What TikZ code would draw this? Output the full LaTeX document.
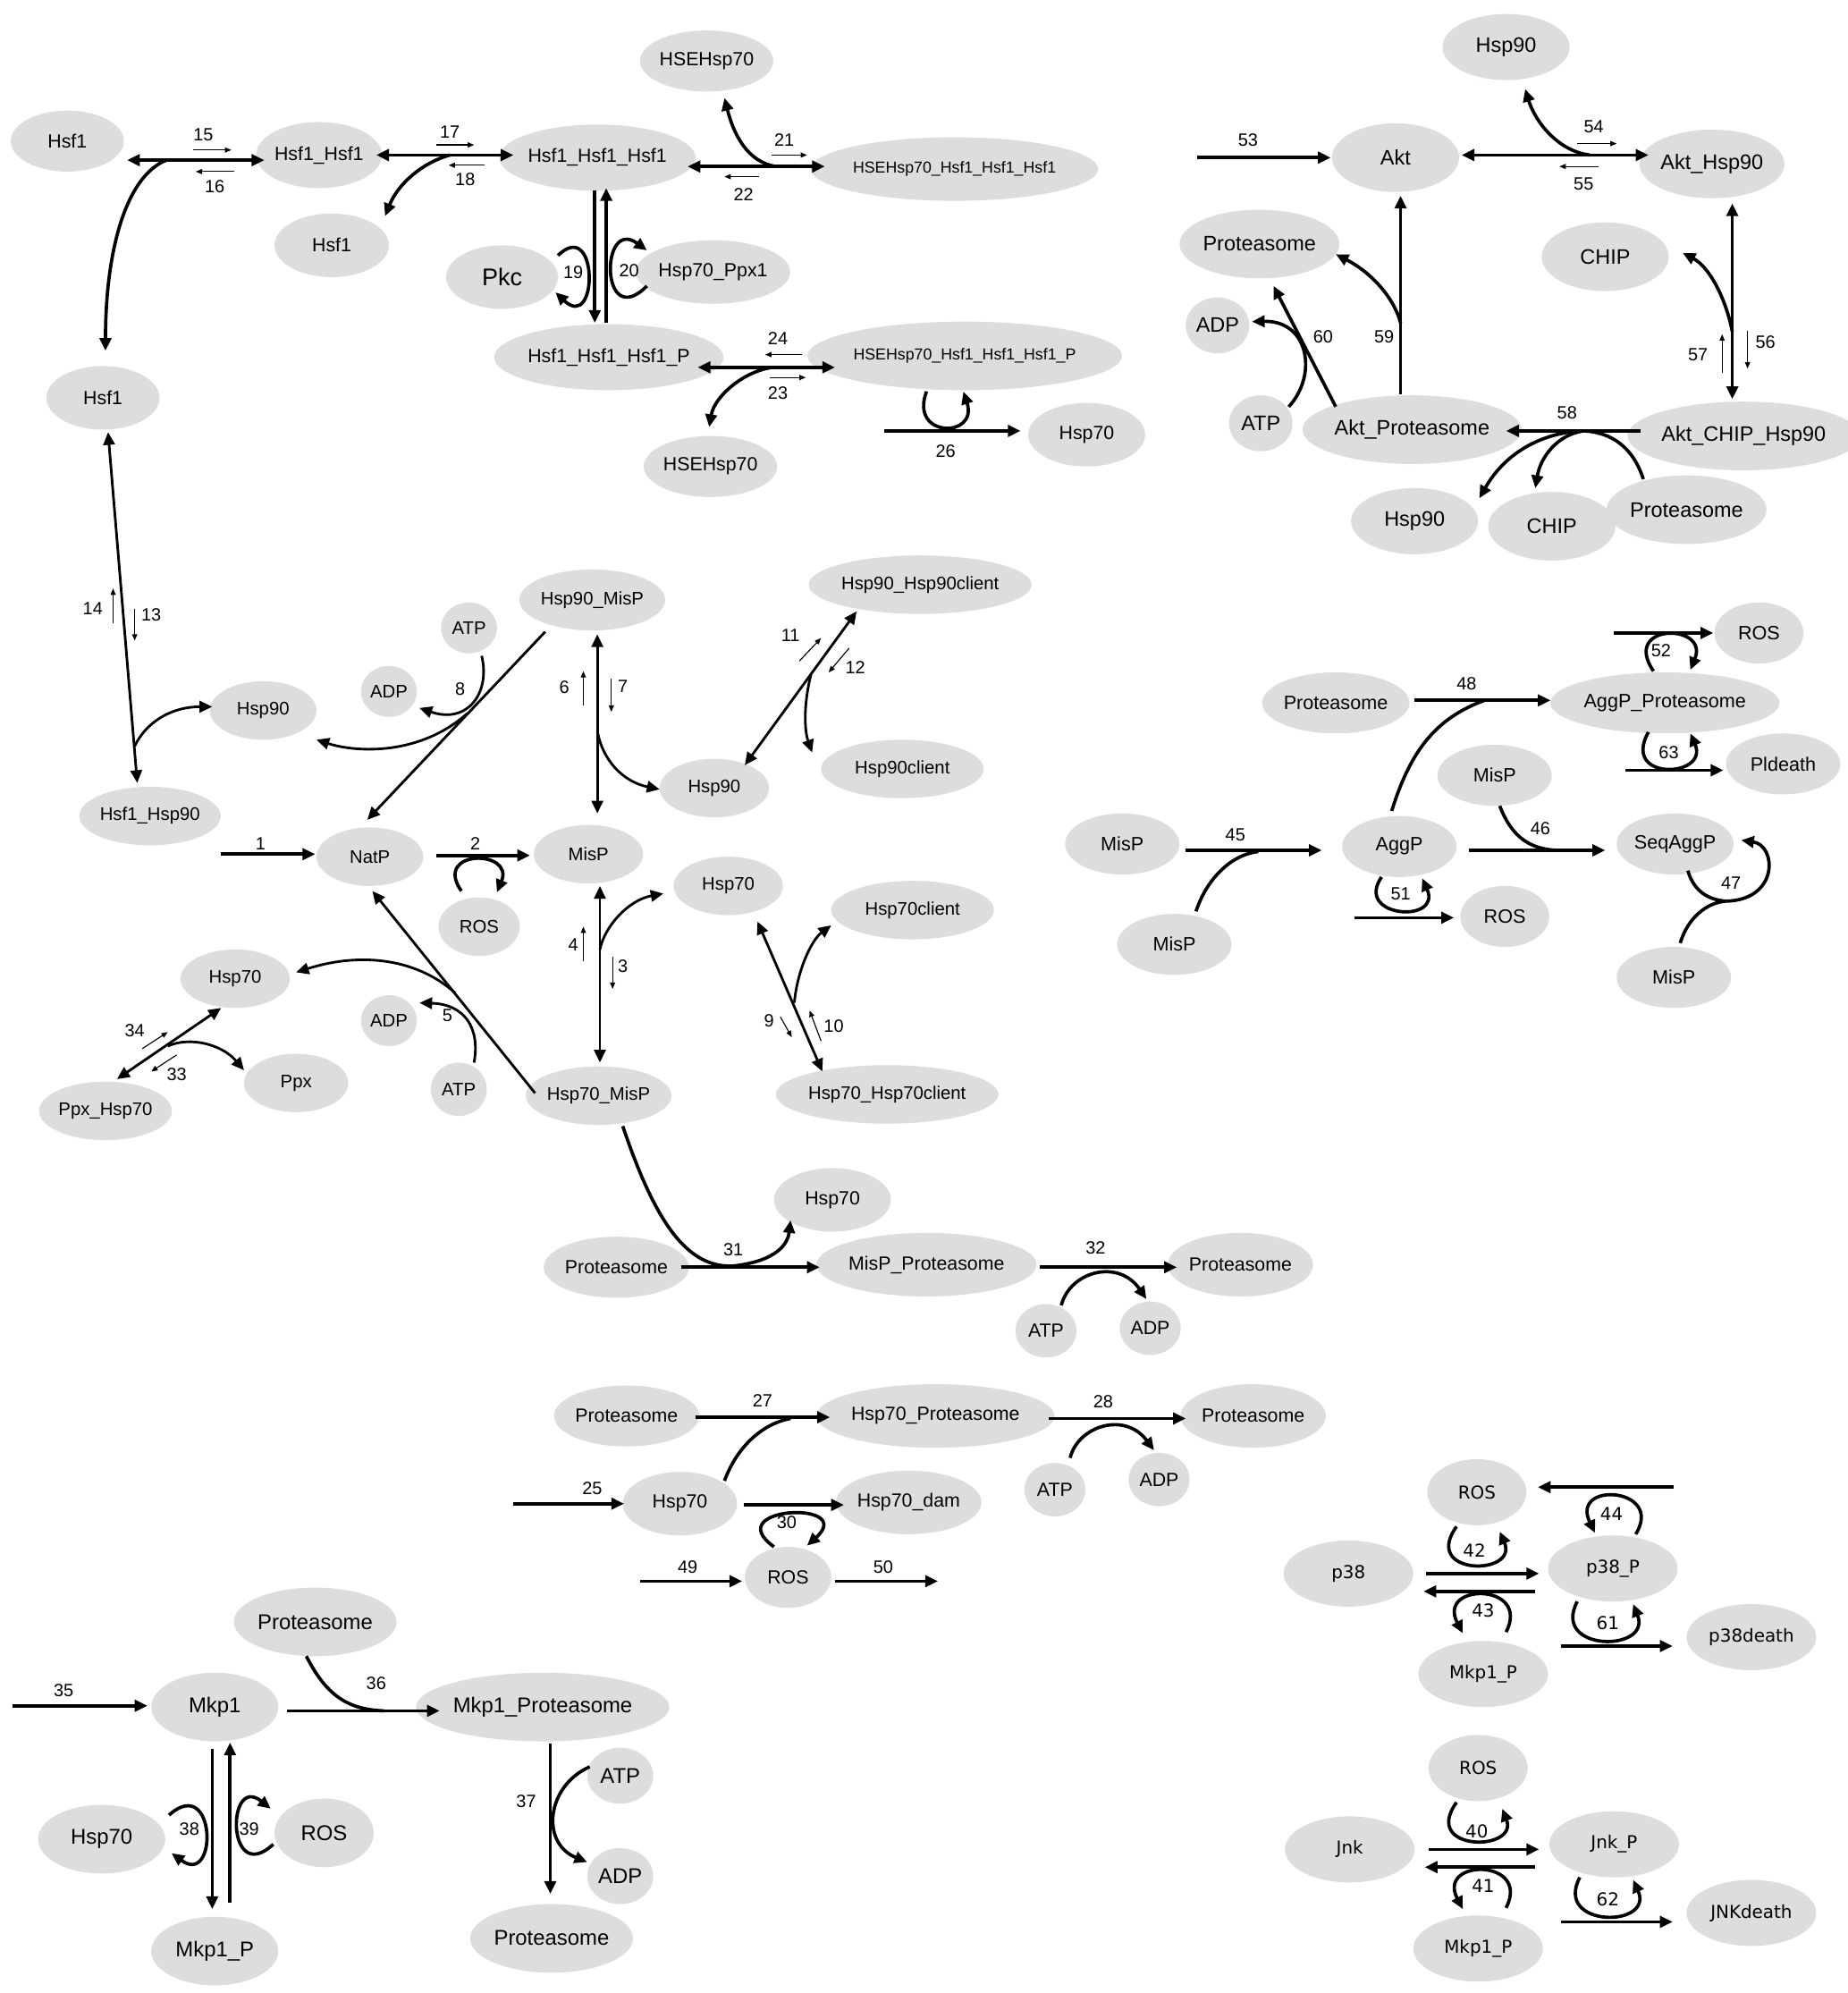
\documentclass[tikz,border=0pt]{standalone}
\usepackage{fontspec}
\setmainfont{Liberation Sans}
\newfontfamily\dejavu{DejaVu Sans}
\usetikzlibrary{shapes.geometric,arrows.meta,calc}
\definecolor{spgray}{RGB}{220,221,223}
\tikzset{
  sp/.style 2 args={ellipse,fill=spgray,inner sep=0pt,minimum width=#1,minimum height=#2},
  rx/.style={line width=2.6pt,-{Triangle[length=10pt,width=9pt]}},
  rxx/.style={line width=2.6pt,{Triangle[length=10pt,width=9pt]}-{Triangle[length=10pt,width=9pt]}},
  ln/.style={line width=2.6pt},
  thn/.style={line width=2pt},
  dirarr/.style={line width=0.8pt,-{Triangle[length=5pt,width=4pt]}},
  num/.style={inner sep=0pt,font=\fontsize{14}{16}\selectfont},
  numdv/.style={inner sep=0pt,font=\dejavu\fontsize{14}{16}\selectfont}
}

\begin{document}
\begin{tikzpicture}[x=1pt,y=-1pt,every node/.style={font=\fontsize{15}{17}\selectfont}]
  \fill[white] (0,0) rectangle (1454,1568);
  \useasboundingbox (0,0) rectangle (1454,1568);

  % Hsf1 trimerisation
  \node[sp={89}{48}] (hsfA) at (53,111) {Hsf1};
  \node[sp={88}{52}] (hsfdim) at (251,122) {Hsf1\_Hsf1};
  \node[sp={90}{50}] (hsfB) at (261,193) {Hsf1};
  \node[sp={89}{50}] (hsfC) at (81,313) {Hsf1};
  \node[sp={134}{52}] (hsftri) at (470,124) {Hsf1\_Hsf1\_Hsf1};
  \node[sp={88}{50},font=\fontsize{19}{21}\selectfont] (pkc) at (395,218) {Pkc};
  \node[sp={98}{50}] (hspppx) at (561,214) {Hsp70\_Ppx1};
  \node[sp={136}{52}] (hsftrip) at (479,281) {Hsf1\_Hsf1\_Hsf1\_P};
  \node[sp={92}{48}] (hseA) at (556,48) {HSEHsp70};
  \node[sp={184}{50},font=\fontsize{12.5}{14}\selectfont] (hsecx) at (751,133) {HSEHsp70\_Hsf1\_Hsf1\_Hsf1};
  \node[sp={188}{54},font=\fontsize{12.5}{14}\selectfont] (hsecxp) at (759,280) {HSEHsp70\_Hsf1\_Hsf1\_Hsf1\_P};
  \node[sp={92}{48}] (hseB) at (559,367) {HSEHsp70};
  \node[sp={92}{50}] (hspA) at (855,342) {Hsp70};

  % Akt
  \begin{scope}[every node/.style={font=\fontsize{16.5}{18}\selectfont}]
    \node[sp={100}{52}] (hspT) at (1185,37) {Hsp90};
    \node[sp={100}{54}] (akt) at (1098,124) {Akt};
    \node[sp={100}{54}] (akthsp) at (1347,129) {Akt\_Hsp90};
    \node[sp={100}{54}] (protA) at (991,192) {Proteasome};
    \node[sp={100}{54}] (chipA) at (1263,202) {CHIP};
    \node[sp={50}{44}] (adpA) at (958,256) {ADP};
    \node[sp={50}{44}] (atpA) at (992,333) {ATP};
    \node[sp={144}{54}] (aktprot) at (1111,338) {Akt\_Proteasome};
    \node[sp={146}{54}] (aktchip) at (1372,343) {Akt\_CHIP\_Hsp90};
    \node[sp={100}{52}] (hspE) at (1113,410) {Hsp90};
    \node[sp={100}{54}] (chipB) at (1221,414) {CHIP};
    \node[sp={100}{54}] (protB) at (1327,401) {Proteasome};
  \end{scope}

  % folding and chaperones
  \begin{scope}[every node/.style={font=\fontsize{14.3}{16}\selectfont}]
    \node[sp={88}{48}] (hsp90misp) at (466,472) {Hsp90\_MisP};
    \node[sp={44}{40}] (atpB) at (369,494) {ATP};
    \node[sp={44}{40}] (adpB) at (306,544) {ADP};
    \node[sp={84}{46}] (hspC) at (207,559) {Hsp90};
    \node[sp={84}{46}] (hsf1hsp90) at (118,642) {Hsf1\_Hsp90};
    \node[sp={84}{46}] (natp) at (291,674) {NatP};
    \node[sp={86}{46}] (misp) at (463,672) {MisP};
    \node[sp={64}{46}] (rosA) at (377,729) {ROS};
    \node[sp={86}{46}] (hspD) at (562,620) {Hsp90};
    \node[sp={158}{46}] (hsp90cl) at (724,460) {Hsp90\_Hsp90client};
    \node[sp={128}{46}] (hsp90clB) at (710,605) {Hsp90client};
    \node[sp={86}{46}] (hspB70) at (573,697) {Hsp70};
    \node[sp={128}{46}] (hsp70cl) at (718,716) {Hsp70client};
    \node[sp={86}{46}] (hspC70) at (185,770) {Hsp70};
    \node[sp={44}{40}] (adpC) at (306,803) {ADP};
    \node[sp={82}{46}] (ppx) at (233,852) {Ppx};
    \node[sp={44}{42}] (atpC) at (361,857) {ATP};
    \node[sp={80}{46}] (ppxhsp) at (83,874) {Ppx\_Hsp70};
    \node[sp={86}{46}] (hsp70misp) at (471,862) {Hsp70\_MisP};
    \node[sp={158}{46}] (hsp70clB) at (698,861) {Hsp70\_Hsp70client};
  \end{scope}

  % degradation
  \node[sp={92}{50}] (hspD70) at (655,944) {Hsp70};
  \node[sp={92}{48}] (protC) at (485,997) {Proteasome};
  \node[sp={162}{50}] (mispprot) at (729,995) {MisP\_Proteasome};
  \node[sp={92}{50}] (protD) at (976,995) {Proteasome};
  \node[sp={48}{42}] (atpD) at (823,1047) {ATP};
  \node[sp={48}{42}] (adpD) at (905,1045) {ADP};
  \node[sp={94}{48}] (protE) at (493,1114) {Proteasome};
  \node[sp={162}{50}] (hsp70prot) at (736,1114) {Hsp70\_Proteasome};
  \node[sp={94}{50}] (protF) at (986,1114) {Proteasome};
  \node[sp={48}{42}] (atpE) at (830,1172) {ATP};
  \node[sp={48}{42}] (adpE) at (912,1164) {ADP};
  \node[sp={90}{50}] (hspE70) at (535,1183) {Hsp70};
  \node[sp={92}{50}] (hsp70dam) at (715,1182) {Hsp70\_dam};
  \node[sp={68}{48}] (rosB) at (620,1241) {ROS};

  % Mkp1
  \begin{scope}[every node/.style={font=\fontsize{16.8}{18}\selectfont}]
    \node[sp={100}{54}] (protG) at (248,1276) {Proteasome};
    \node[sp={100}{54}] (mkp1) at (169,1343) {Mkp1};
    \node[sp={150}{54}] (mkp1prot) at (427,1343) {Mkp1\_Proteasome};
    \node[sp={100}{54}] (hspF70) at (80,1447) {Hsp70};
    \node[sp={78}{54}] (rosC) at (255,1442) {ROS};
    \node[sp={100}{54}] (mkp1p) at (169,1535) {Mkp1\_P};
    \node[sp={52}{44}] (atpF) at (488,1397) {ATP};
    \node[sp={52}{44}] (adpF) at (488,1476) {ADP};
    \node[sp={100}{54}] (protH) at (434,1525) {Proteasome};
  \end{scope}

  % aggregation
  \begin{scope}[every node/.style={font=\fontsize{15.2}{17}\selectfont}]
    \node[sp={70}{48}] (rosD) at (1384,498) {ROS};
    \node[sp={84}{48}] (protI) at (1051,553) {Proteasome};
    \node[sp={152}{48}] (aggprot) at (1310,553) {AggP\_Proteasome};
    \node[sp={90}{48}] (mispB) at (1176,610) {MisP};
    \node[sp={90}{48}] (pldeath) at (1403,601) {Pldeath};
    \node[sp={90}{48}] (mispC) at (883,664) {MisP};
    \node[sp={90}{48}] (aggp) at (1101,666) {AggP};
    \node[sp={92}{48}] (seqaggp) at (1318,664) {SeqAggP};
    \node[sp={70}{48}] (rosE) at (1184,721) {ROS};
    \node[sp={90}{48}] (mispD) at (924,743) {MisP};
    \node[sp={90}{48}] (mispE) at (1317,769) {MisP};
  \end{scope}

  % p38 and Jnk
  \begin{scope}[every node/.style={font=\dejavu\fontsize{14}{16}\selectfont}]
    \node[sp={78}{52}] (rosF) at (1162,1174) {ROS};
    \node[sp={102}{52}] (p38) at (1061,1238) {p38};
    \node[sp={102}{52}] (p38p) at (1269,1234) {p38\_P};
    \node[sp={102}{52}] (p38death) at (1378,1288) {p38death};
    \node[sp={102}{52}] (mkp1pB) at (1167,1317) {Mkp1\_P};
    \node[sp={78}{52}] (rosG) at (1163,1391) {ROS};
    \node[sp={102}{52}] (jnk) at (1062,1455) {Jnk};
    \node[sp={102}{52}] (jnkp) at (1270,1451) {Jnk\_P};
    \node[sp={102}{52}] (jnkdeath) at (1378,1505) {JNKdeath};
    \node[sp={102}{52}] (mkp1pC) at (1163,1533) {Mkp1\_P};
  \end{scope}

  \coordinate (j15) at (131,126);
  \coordinate (j17) at (354,122);
  \coordinate (j21) at (611,131);
  \coordinate (j23) at (608,289);
  \coordinate (s26) at (696,339);
  \coordinate (j13) at (106,587);
  \coordinate (s53) at (942,124);
  \coordinate (j54) at (1251,122);
  \coordinate (j56) at (1363,261);
  \coordinate (j58) at (1246,339);
  \coordinate (j59) at (1102,254);
  \coordinate (s1) at (174,672);
  \coordinate (j6) at (470,575);
  \coordinate (j8) at (368,561);
  \coordinate (j11) at (638,531);
  \coordinate (j3) at (472,747);
  \coordinate (j9) at (625,789);
  \coordinate (j5) at (358,781);
  \coordinate (j33) at (132,823);
  \coordinate (j31) at (577,996);
  \coordinate (j27) at (622,1116);
  \coordinate (s25) at (404,1183);
  \coordinate (s49) at (504,1244);
  \coordinate (e50) at (738,1244);
  \coordinate (s35) at (10,1342);
  \coordinate (j36) at (302,1346);
  \coordinate (j45) at (990,670);
  \coordinate (j48) at (1168,551);
  \coordinate (j46) at (1225,669);
  \coordinate (j47) at (1358,709);
  \coordinate (s51) at (1066,722);
  \coordinate (s52) at (1270,498);
  \coordinate (s63) at (1279,606);
  \coordinate (s44) at (1317,1170);
  \coordinate (s61) at (1228,1295);
  \coordinate (s62) at (1228,1512);

  \draw[rxx] ($(hsfA)+(47,15)$) -- ($(hsfdim)+(-43,4)$);
  \draw[rx] (j15) .. controls (100,138) and (83,195) .. ($(hsfC)+(2,-37)$);
  \draw[rxx] ($(hsfdim)+(45,0)$) -- ($(hsftri)+(-66,-2)$);
  \draw[rx] (j17) .. controls (332,128) and (313,145) .. ($(hsfB)+(42,-23)$);
  \draw[rx] ($(hsftri)+(-2,26)$) -- ($(hsftrip)+(-11,-27)$);
  \draw[rx] ($(hsftrip)+(-2,-27)$) -- ($(hsftri)+(7,24)$);
  \draw[rx] ($(pkc)+(44,-17)$) .. controls (471,170) and (471,262) .. ($(pkc)+(42,12)$);
  \draw[rx] ($(hspppx)+(-52,11)$) .. controls (472,262) and (472,170) .. ($(hspppx)+(-52,-17)$);
  \draw[rxx] ($(hsftri)+(71,7)$) -- ($(hsecx)+(-102,-2)$);
  \draw[rx] (j21) .. controls (588,128) and (577,105) .. ($(hseA)+(14,29)$);
  \draw[rxx] ($(hsftrip)+(70,8)$) -- ($(hsecxp)+(-102,9)$);
  \draw[rx] (j23) .. controls (585,292) and (562,312) .. ($(hseB)+(-1,-31)$);
  \draw[rx] (s26) -- ($(hspA)+(-52,-3)$);
  \draw[rx] ($(hsecxp)+(-30,28)$) .. controls (715,345) and (770,345) .. ($(hsecxp)+(-1,28)$);
  \draw[rxx,thn] ($(hsfC)+(4,27)$) -- ($(hsf1hsp90)+(-10,-26)$);
  \draw[rx,thn] (j13) .. controls (115,568) and (135,556) .. ($(hspC)+(-40,-3)$);

  \draw[rx] (s53) -- ($(akt)+(-51,0)$);
  \draw[rxx] ($(akt)+(52,-2)$) -- ($(akthsp)+(-50,-7)$);
  \draw[rx] (j54) .. controls (1226,119) and (1208,96) .. ($(hspT)+(15,33)$);
  \draw[rxx] ($(akthsp)+(16,31)$) -- ($(aktchip)+(-9,-29)$);
  \draw[rx] (j56) .. controls (1358,235) and (1345,210) .. ($(chipA)+(61,-3)$);
  \draw[rx] ($(aktchip)+(-81,-4)$) -- ($(aktprot)+(74,1)$);
  \draw[ln] ($(protB)+(-34,-24)$) .. controls (1285,352) and (1268,340) .. (j58);
  \draw[rx] (j58) .. controls (1215,340) and (1185,355) .. ($(hspE)+(51,-18)$);
  \draw[rx] (j58) .. controls (1225,342) and (1212,360) .. ($(chipB)+(-13,-30)$);
  \draw[rx] ($(aktprot)+(-9,-28)$) -- ($(akt)+(4,30)$);
  \draw[rx] (j59) .. controls (1097,235) and (1080,215) .. ($(protA)+(60,8)$);
  \draw[rx] ($(aktprot)+(-60,-18)$) -- ($(protA)+(11,33)$);
  \draw[rx] ($(atpA)+(22,-13)$) .. controls (1037,295) and (1030,252) .. ($(adpA)+(27,-3)$);

  \draw[rx] (s1) -- ($(natp)+(-43,-2)$);
  \draw[rx] ($(natp)+(52,-1)$) -- ($(misp)+(-46,1)$);
  \draw[rx] ($(rosA)+(-14,-28)$) .. controls (340,668) and (405,668) .. ($(rosA)+(14,-27)$);
  \draw[rxx,thn] ($(hsp90misp)+(4,27)$) -- ($(misp)+(7,-32)$);
  \draw[rx,thn] (j6) .. controls (474,598) and (490,615) .. ($(hspD)+(-43,1)$);
  \draw[rx,thn] ($(hsp90misp)+(-37,25)$) -- ($(natp)+(-2,-29)$);
  \draw[rx,thn] ($(atpB)+(10,22)$) .. controls (386,545) and (368,570) .. ($(adpB)+(24,13)$);
  \draw[rx,thn] (j8) .. controls (330,595) and (280,592) .. ($(hspC)+(42,23)$);
  \draw[rxx,thn] ($(hspD)+(24,-18)$) -- ($(hsp90cl)+(-50,21)$);
  \draw[rx,thn] (j11) .. controls (632,555) and (633,575) .. ($(hsp90clB)+(-71,-13)$);
  \draw[rxx,thn] ($(misp)+(9,25)$) -- ($(hsp70misp)+(1,-26)$);
  \draw[rx,thn] (j3) .. controls (476,728) and (495,708) .. ($(hspB70)+(-51,6)$);
  \draw[rxx,thn] ($(hspB70)+(23,28)$) -- ($(hsp70clB)+(-51,-18)$);
  \draw[rx,thn] (j9) .. controls (627,765) and (638,740) .. ($(hsp70cl)+(-64,12)$);
  \draw[rx,thn] ($(hsp70misp)+(-50,-2)$) -- ($(natp)+(2,27)$);
  \draw[rx,thn] ($(atpC)+(12,-21)$) .. controls (378,808) and (365,790) .. ($(adpC)+(24,-14)$);
  \draw[rx,thn] (j5) .. controls (325,752) and (280,750) .. ($(hspC70)+(48,-5)$);
  \draw[rxx,thn] ($(ppxhsp)+(9,-25)$) -- ($(hspC70)+(-11,23)$);
  \draw[rx,thn] (j33) .. controls (150,815) and (175,822) .. ($(ppx)+(-41,-10)$);

  \draw[rx] ($(protC)+(51,0)$) -- ($(mispprot)+(-84,2)$);
  \draw[rx] ($(hsp70misp)+(19,24)$) .. controls (515,960) and (540,998) .. (j31) .. controls (612,992) and (620,978) .. ($(hspD70)+(-33,16)$);
  \draw[rx] ($(mispprot)+(89,2)$) -- ($(protD)+(-50,2)$);
  \draw[rx] ($(atpD)+(12,-20)$) .. controls (842,1000) and (880,990) .. ($(adpD)+(-3,-23)$);
  \draw[rx] ($(protE)+(54,1)$) -- ($(hsp70prot)+(-83,1)$);
  \draw[ln] ($(hspE70)+(35,-18)$) .. controls (580,1138) and (600,1120) .. (j27);
  \draw[rx] ($(hsp70prot)+(89,2)$) -- ($(protF)+(-53,2)$);
  \draw[rx] ($(atpE)+(12,-25)$) .. controls (848,1122) and (885,1110) .. ($(adpE)+(-4,-23)$);
  \draw[rx] (s25) -- ($(hspE70)+(-44,0)$);
  \draw[rx] ($(hspE70)+(50,1)$) -- ($(hsp70dam)+(-51,2)$);
  \draw[rx] ($(rosB)+(-11,-24)$) .. controls (565,1185) and (675,1180) .. ($(rosB)+(15,-25)$);
  \draw[rx] (s49) -- ($(rosB)+(-36,3)$);
  \draw[rx] ($(rosB)+(37,3)$) -- (e50);

  \draw[rx] (s35) -- ($(mkp1)+(-53,-1)$);
  \draw[rx] ($(mkp1)+(57,3)$) -- ($(mkp1prot)+(-81,3)$);
  \draw[ln] ($(protG)+(-7,27)$) .. controls (255,1330) and (270,1345) .. (j36);
  \draw[rx] ($(mkp1)+(-2,33)$) -- ($(mkp1p)+(-2,-33)$);
  \draw[rx] ($(mkp1p)+(12,-38)$) -- ($(mkp1)+(12,28)$);
  \draw[rx] ($(hspF70)+(53,-19)$) .. controls (170,1395) and (172,1485) .. ($(hspF70)+(55,11)$);
  \draw[rx] ($(rosC)+(-40,9)$) .. controls (178,1485) and (178,1395) .. ($(rosC)+(-42,-19)$);
  \draw[rx] ($(mkp1prot)+(6,29)$) -- ($(protH)+(-1,-35)$);
  \draw[rx] ($(atpF)+(-24,-7)$) .. controls (430,1405) and (425,1450) .. ($(adpF)+(-26,-11)$);

  \draw[rx] ($(mispC)+(50,5)$) -- ($(aggp)+(-61,3)$);
  \draw[ln] ($(mispD)+(17,-26)$) .. controls (950,690) and (970,672) .. (j45);
  \draw[rx] ($(protI)+(62,-2)$) -- ($(aggprot)+(-90,-2)$);
  \draw[ln] ($(aggp)+(-6,-28)$) .. controls (1110,590) and (1130,565) .. (j48);
  \draw[rx] ($(aggp)+(55,3)$) -- ($(seqaggp)+(-55,5)$);
  \draw[ln] ($(mispB)+(4,24)$) .. controls (1190,660) and (1205,668) .. (j46);
  \draw[ln] ($(seqaggp)+(10,21)$) .. controls (1333,702) and (1345,708) .. (j47);
  \draw[ln] ($(mispE)+(5,-27)$) .. controls (1328,722) and (1343,710) .. (j47);
  \draw[rx] (j47) .. controls (1400,708) and (1398,665) .. ($(seqaggp)+(52,-3)$);
  \draw[rx] (s51) -- ($(rosE)+(-40,1)$);
  \draw[rx] ($(aggp)+(-14,24)$) .. controls (1065,722) and (1135,727) .. ($(aggp)+(18,25)$);
  \draw[rx] (s52) -- ($(rosD)+(-36,0)$);
  \draw[rx] ($(aggprot)+(-9,-25)$) .. controls (1275,490) and (1345,490) .. ($(aggprot)+(20,-26)$);
  \draw[rx] (s63) -- ($(pldeath)+(-47,5)$);
  \draw[rx] ($(aggprot)+(-13,23)$) .. controls (1275,615) and (1345,612) .. ($(aggprot)+(20,24)$);

  \draw[rx] (s44) -- ($(rosF)+(48,-4)$);
  \draw[rx] ($(p38p)+(18,-27)$) .. controls (1310,1170) and (1235,1165) .. ($(p38p)+(-14,-28)$);
  \draw[rx] ($(p38)+(61,0)$) -- ($(p38p)+(-58,4)$);
  \draw[rx] ($(rosF)+(-16,27)$) .. controls (1118,1240) and (1195,1240) .. ($(rosF)+(18,31)$);
  \draw[rx] ($(p38p)+(-61,18)$) -- ($(p38)+(59,14)$);
  \draw[rx] ($(mkp1pB)+(18,-33)$) .. controls (1205,1245) and (1130,1245) .. ($(mkp1pB)+(-16,-32)$);
  \draw[rx] (s61) -- ($(p38death)+(-62,7)$);
  \draw[rx] ($(p38p)+(-28,26)$) .. controls (1220,1300) and (1300,1300) .. ($(p38p)+(16,28)$);
  \draw[rx] ($(jnk)+(62,0)$) -- ($(jnkp)+(-59,4)$);
  \draw[rx] ($(rosG)+(-17,27)$) .. controls (1118,1457) and (1195,1457) .. ($(rosG)+(19,32)$);
  \draw[rx] ($(jnkp)+(-62,18)$) -- ($(jnk)+(59,14)$);
  \draw[rx] ($(mkp1pC)+(22,-32)$) .. controls (1205,1462) and (1130,1462) .. ($(mkp1pC)+(-12,-31)$);
  \draw[rx] (s62) -- ($(jnkdeath)+(-62,7)$);
  \draw[rx] ($(jnkp)+(-27,26)$) .. controls (1222,1517) and (1302,1517) .. ($(jnkp)+(15,28)$);

  \foreach \n/\x/\y in {15/160/106,16/169/147,17/354/104,18/366/141,19/451/214,20/495/213,
    21/617/110,22/585/153,23/612/309,24/612/266,26/744/355,13/119/484,14/73/479,
    53/982/110,54/1254/100,55/1246/145,56/1389/269,57/1336/279,58/1233/325,59/1089/265,60/1041/265,
    1/205/664,2/374/664,6/444/541,7/490/540,8/362/542,11/622/500,12/673/525,3/490/760,4/451/743,
    9/605/803,10/656/807,5/352/799,33/139/845,34/106/811,
    31/577/983,32/862/982,27/600/1102,28/868/1103,25/466/1171,30/619/1198,49/541/1233,50/695/1233,
    35/50/1330,36/296/1324,38/149/1439,39/196/1439,37/414/1417,
    45/972/657,48/1154/538,46/1212/652,47/1362/695,51/1102/703,52/1307/512,63/1313/592}
    \node[num] (n\n) at (\x,\y) {\n};
  \foreach \n/\x/\y in {44/1268/1191,42/1160/1220,43/1167/1267,61/1265/1277,40/1162/1441,41/1167/1484,62/1265/1494}
    \node[numdv] (n\n) at (\x,\y) {\n};
  \foreach \n/\dx/\dy/\vx/\vy in {15/-8/12/30/0,16/15/-12/-30/0,17/-11/10/30/0,18/15/-11/-28/0,
    21/-10/12/28/0,22/12/-14/-27/0,23/-6/-12/28/0,24/19/13/-29/0,13/-13/-5/0/25,14/16/11/0/-27,
    54/-13/13/31/0,55/12/-14/-31/0,56/-14/-9/0/30,57/19/14/0/-30,
    6/15/14/0/-27,7/-9/-6/0/26,11/7/20/17/-18,12/-5/-15/-16/19,3/-8/-7/0/25,4/8/13/0/-27,
    9/9/-3/9/16,10/-10/12/-9/-24,33/0/-15/-20/13,34/6/14/20/-13}
    \draw[dirarr] ([shift={(\dx,\dy)}]n\n.center) -- ++(\vx,\vy);
\end{tikzpicture}
\end{document}
